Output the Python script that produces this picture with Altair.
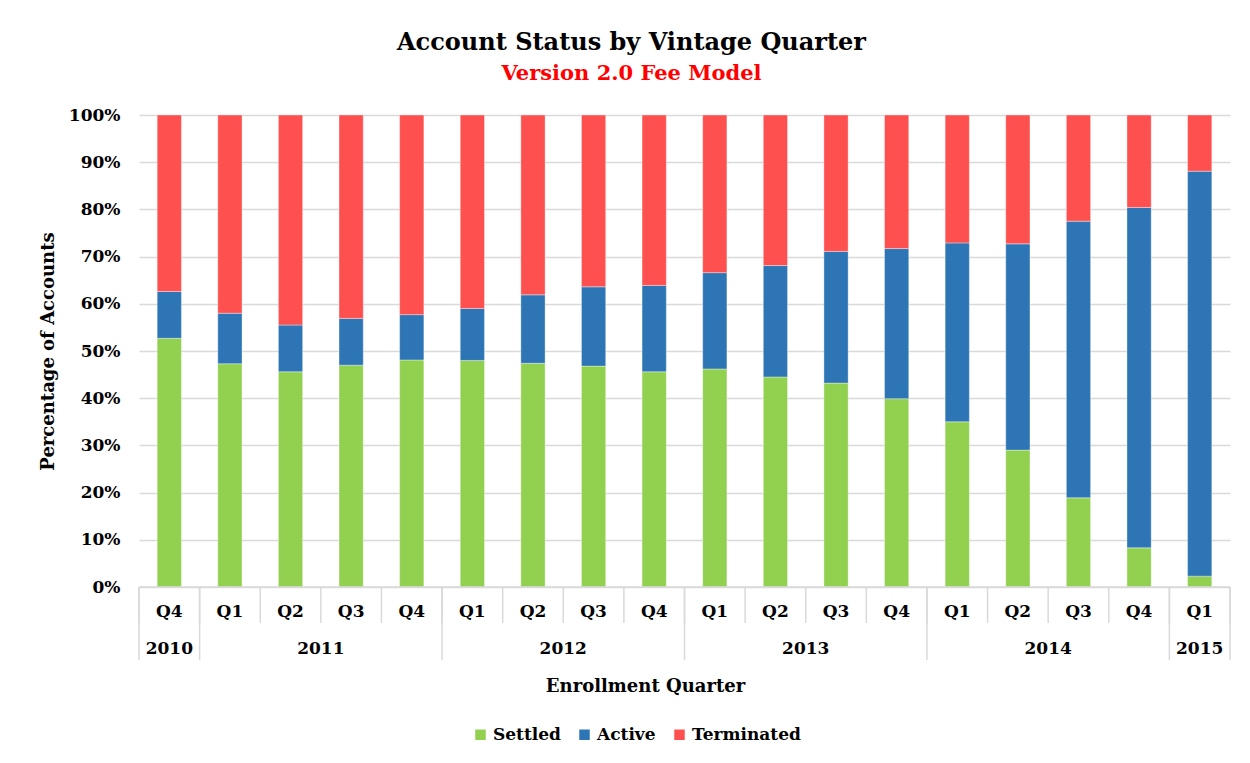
import altair as alt
import pandas as pd

years = ["2010", "2011", "2011", "2011", "2011", "2012", "2012", "2012", "2012",
         "2013", "2013", "2013", "2013", "2014", "2014", "2014", "2014", "2015"]
quarters = ["Q4", "Q1", "Q2", "Q3", "Q4", "Q1", "Q2", "Q3", "Q4",
            "Q1", "Q2", "Q3", "Q4", "Q1", "Q2", "Q3", "Q4", "Q1"]
settled = [52.7, 47.3, 45.6, 47.0, 48.1, 48.0, 47.4, 46.8, 45.6,
           46.2, 44.5, 43.2, 39.9, 35.0, 29.0, 18.9, 8.3, 2.3]
active = [9.9, 10.7, 9.9, 9.9, 9.6, 11.0, 14.5, 16.8, 18.3,
          20.4, 23.6, 27.9, 31.8, 37.9, 43.7, 58.6, 72.1, 85.8]
terminated = [37.4, 42.0, 44.5, 43.1, 42.3, 41.0, 38.1, 36.4, 36.1,
              33.4, 31.9, 28.9, 28.3, 27.1, 27.3, 22.5, 19.6, 11.9]

year_labels = ["2010", "2011", "2012", "2013", "2014", "2015"]
year_counts = [1, 4, 4, 4, 4, 1]

statuses = ["Settled", "Active", "Terminated"]
colors = ["#92D050", "#2E75B6", "#FF5050"]

FONT = "DejaVu Serif"
W, H = 1091, 472

keys = [f"{y}-{q}" for y, q in zip(years, quarters)]
rows = []
for i, k in enumerate(keys):
    for j, (s, v) in enumerate(zip(statuses, [settled[i], active[i], terminated[i]])):
        rows.append({"key": k, "status": s, "value": v, "order": j})
df = pd.DataFrame(rows)

qdf = pd.DataFrame({"key": keys, "quarter": quarters})

# year spans on a linear index scale
starts = []
acc = 0
for c in year_counts:
    starts.append(acc)
    acc += c
ydf = pd.DataFrame({
    "year": year_labels,
    "mid": [s + c / 2 for s, c in zip(starts, year_counts)],
})
bounds_all = pd.DataFrame({"b": list(range(len(keys) + 1))})
bounds_year = pd.DataFrame({"b": starts + [len(keys)]})
base_line = pd.DataFrame({"a": [0], "b": [len(keys)]})

xband = alt.X("key:N", sort=keys, axis=None,
              scale=alt.Scale(paddingInner=0.6, paddingOuter=0.3))

bars = alt.Chart(df).mark_bar(stroke="white", strokeWidth=0.6, strokeOpacity=0.6).encode(
    x=xband,
    y=alt.Y("value:Q", stack="zero",
            scale=alt.Scale(domain=[0, 100]),
            axis=alt.Axis(values=list(range(0, 101, 10)),
                          labelExpr="datum.value + '%'",
                          title="Percentage of Accounts",
                          titleX=-91, titleBaseline="middle",
                          titleFontSize=18, titleFont=FONT, titleFontWeight="bold",
                          labelFont=FONT, labelFontWeight="bold", labelFontSize=17,
                          labelColor="#000", titleColor="#000",
                          labelPadding=19, ticks=False, domain=False,
                          grid=True, gridColor="#d9d9d9", gridWidth=1.5)),
    color=alt.Color("status:N", sort=statuses,
                    scale=alt.Scale(domain=statuses, range=colors),
                    legend=alt.Legend(title=None, orient="none", direction="horizontal",
                                      legendX=333, legendY=611,
                                      symbolType="square", symbolSize=110,
                                      symbolStrokeWidth=0,
                                      labelFont=FONT, labelFontWeight="bold",
                                      labelFontSize=17, labelColor="#000",
                                      columnPadding=15, labelOffset=4)),
    order=alt.Order("order:Q"),
)

qtext = alt.Chart(qdf).mark_text(font=FONT, fontWeight="bold", fontSize=17,
                                 baseline="middle", color="#000").encode(
    x=xband, y=alt.value(H + 25), text="quarter:N")

xlin = alt.Scale(domain=[0, len(keys)], nice=False, zero=False)

ytext = alt.Chart(ydf).mark_text(font=FONT, fontWeight="bold", fontSize=17,
                                 baseline="middle", color="#000").encode(
    x=alt.X("mid:Q", scale=xlin,
            axis=alt.Axis(title="Enrollment Quarter", labels=False, ticks=False,
                          domain=False, grid=False, titleX=506, titleY=99,
                          titleFont=FONT, titleFontWeight="bold", titleFontSize=18,
                          titleColor="#000", titleBaseline="middle")),
    y=alt.value(H + 62), text="year:N")

sep_q = alt.Chart(bounds_all).mark_rule(color="#d9d9d9", strokeWidth=1.5).encode(
    x=alt.X("b:Q", scale=xlin, axis=None), y=alt.value(H), y2=alt.value(H + 36))

sep_y = alt.Chart(bounds_year).mark_rule(color="#d9d9d9", strokeWidth=1.5).encode(
    x=alt.X("b:Q", scale=xlin, axis=None), y=alt.value(H), y2=alt.value(H + 73))

baseline = alt.Chart(base_line).mark_rule(color="#d9d9d9", strokeWidth=1.5).encode(
    x=alt.X("a:Q", scale=xlin, axis=None), x2="b:Q", y=alt.value(H))

chart = alt.layer(bars, qtext, ytext, sep_q, sep_y, baseline).resolve_scale(
    x="independent"
).properties(
    width=W, height=H,
    autosize=alt.AutoSizeParams(type="none"),
    padding={"left": 131, "top": 107, "right": 12, "bottom": 165},
    title=alt.Title("Account Status by Vintage Quarter",
                    subtitle="Version 2.0 Fee Model",
                    anchor="middle", dx=-53, offset=22,
                    font=FONT, fontSize=24, fontWeight="bold", color="#000",
                    subtitleFont=FONT, subtitleFontSize=21, subtitleFontWeight="bold",
                    subtitleColor="#FF0000", subtitlePadding=8),
).configure_view(stroke=None)

chart.save("out.html", embed_options={"renderer": "svg", "actions": False})
